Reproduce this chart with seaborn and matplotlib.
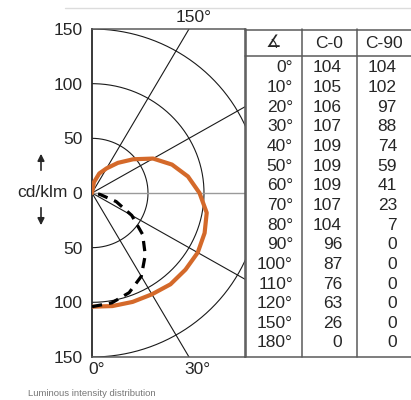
import numpy as np
import pandas as pd
import matplotlib
matplotlib.use("Agg")
import matplotlib.pyplot as plt
import seaborn as sns

# Luminous intensity values (cd/klm) per gamma angle, C-0 and C-90 planes
table_angles = [0, 10, 20, 30, 40, 50, 60, 70, 80, 90, 100, 110, 120, 150, 180]
c0_values = [104, 105, 106, 107, 109, 109, 109, 107, 104, 96, 87, 76, 63, 26, 0]
c90_values = [104, 102, 97, 88, 74, 59, 41, 23, 7, 0, 0, 0, 0, 0, 0]

# additional C-0 readings between the tabulated angles, used for the curve
c0_extra_angles = [130, 140, 160, 170]
c0_extra_values = [48, 36, 19, 10]

grid_radii = [50, 100, 150]
spoke_angles = [30, 60, 120, 150]
ytick_values = [-150, -100, -50, 0, 50, 100, 150]
ytick_labels = ["150", "100", "50", "0", "50", "100", "150"]
col_headers = ["\u2221", "C-0", "C-90"]
caption = "Luminous intensity distribution"

W, H = 411, 400
ORANGE = "#d4692a"
LINE_GREY = "#5a5a5a"
TEXT = "#262626"

sns.set_style("white")
plt.rcParams["font.family"] = ["Liberation Sans", "DejaVu Sans"]


def to_xy(angles, radii):
    a = np.deg2rad(np.asarray(angles, dtype=float))
    r = np.asarray(radii, dtype=float)
    return r * np.sin(a), -r * np.cos(a)


def fx(x):
    return x / W


def fy(y):
    return 1 - y / H


fig = plt.figure(figsize=(W / 100, H / 100), dpi=100)
fig.patch.set_facecolor("white")

ax = fig.add_axes([fx(92), fy(357), 153 / W, 328 / H])
ax.set_xlim(0, 153 / 1.12)
ax.set_ylim(-150, 150)

# polar grid: rings and spokes
t = np.linspace(0, np.pi, 400)
for rr in grid_radii:
    ax.plot(rr * np.sin(t), -rr * np.cos(t), color="#1a1a1a", lw=0.8, zorder=1)
for sa in spoke_angles:
    sx, sy = to_xy([0, sa], [0, 400])
    ax.plot(sx, sy, color="#1a1a1a", lw=0.8, zorder=1)
ax.axhline(0, color="#9a9a9a", lw=1.0, zorder=1)

# C-0 curve
c0_curve = sorted(zip(table_angles + c0_extra_angles, c0_values + c0_extra_values))
x0, y0 = to_xy([a for a, _ in c0_curve], [v for _, v in c0_curve])
df0 = pd.DataFrame({"x": x0, "y": y0})
sns.lineplot(data=df0, x="x", y="y", sort=False, estimator=None, ax=ax,
             color=ORANGE, lw=3.0, zorder=3,
             solid_joinstyle="round", solid_capstyle="round")

# C-90 curve
c90_pts = [(a, v) for a, v in zip(table_angles, c90_values) if a <= 90]
x90, y90 = to_xy([a for a, _ in c90_pts], [v for _, v in c90_pts])
df90 = pd.DataFrame({"x": x90, "y": y90})
sns.lineplot(data=df90, x="x", y="y", sort=False, estimator=None, ax=ax,
             color="black", lw=2.3, zorder=4, dashes=False,
             linestyle=(0, (3.2, 2.2)))

ax.set_xlabel("")
ax.set_ylabel("")
ax.set_xticks([])
ax.set_yticks(ytick_values)
ax.set_yticklabels(ytick_labels, fontsize=12.5, color=TEXT)
ax.tick_params(axis="y", length=0, pad=7)
for side, sp in ax.spines.items():
    sp.set_visible(True)
    sp.set_color(LINE_GREY)
    sp.set_linewidth(1.1)
ax.spines["left"].set_color("#2a2a2a")
ax.spines["left"].set_linewidth(1.3)

# angle labels at the ends of the spokes
fig.text(fx(96.5), fy(370), "0\u00b0", ha="center", va="center", fontsize=12.5, color=TEXT)
fig.text(fx(197.5), fy(370), "30\u00b0", ha="center", va="center", fontsize=12.5, color=TEXT)
fig.text(fx(194), fy(17), "150\u00b0", ha="center", va="center", fontsize=12.5, color=TEXT)

# unit label with direction arrows
fig.text(fx(68), fy(193), "cd/klm", ha="right", va="center", fontsize=12.5, color=TEXT)
fig.add_artist(matplotlib.patches.FancyArrowPatch(
    (fx(41), fy(173)), (fx(41), fy(151)), transform=fig.transFigure,
    arrowstyle="-|>,head_length=4,head_width=2", color=TEXT, lw=1.2, mutation_scale=1))
fig.add_artist(matplotlib.patches.FancyArrowPatch(
    (fx(41), fy(205)), (fx(41), fy(228)), transform=fig.transFigure,
    arrowstyle="-|>,head_length=4,head_width=2", color=TEXT, lw=1.2, mutation_scale=1))

# faint rule at the top
fig.add_artist(matplotlib.lines.Line2D([fx(65), fx(411)], [fy(8), fy(8)],
                                       color="#dcdcdc", lw=1.0))

# value table
tab = fig.add_axes([fx(245), fy(357), 166 / W, 328 / H])
tab.set_xlim(245, 411)
tab.set_ylim(357, 29)
tab.axis("off")
for xv in [245.5, 302, 357]:
    tab.plot([xv, xv], [29, 357], color=LINE_GREY, lw=1.1, clip_on=False)
for yv in [29.5, 56, 356.5]:
    tab.plot([245, 411], [yv, yv], color=LINE_GREY, lw=1.1, clip_on=False)

header_x = [273.5, 329.5, 384]
for hx, htxt in zip(header_x, col_headers):
    tab.text(hx, 43, htxt, ha="center", va="center", fontsize=12.5, color=TEXT)

right_edges = [293, 342, 397]
for i, (a, v0, v90) in enumerate(zip(table_angles, c0_values, c90_values)):
    yy = 68 + i * 19.64
    tab.text(right_edges[0], yy, f"{a}\u00b0", ha="right", va="center", fontsize=12.5, color=TEXT)
    tab.text(right_edges[1], yy, f"{v0}", ha="right", va="center", fontsize=12.5, color=TEXT)
    tab.text(right_edges[2], yy, f"{v90}", ha="right", va="center", fontsize=12.5, color=TEXT)

fig.text(fx(28), fy(394), caption, ha="left", va="center", fontsize=6.8, color="#777777")

fig.savefig("out.png", dpi=100)
